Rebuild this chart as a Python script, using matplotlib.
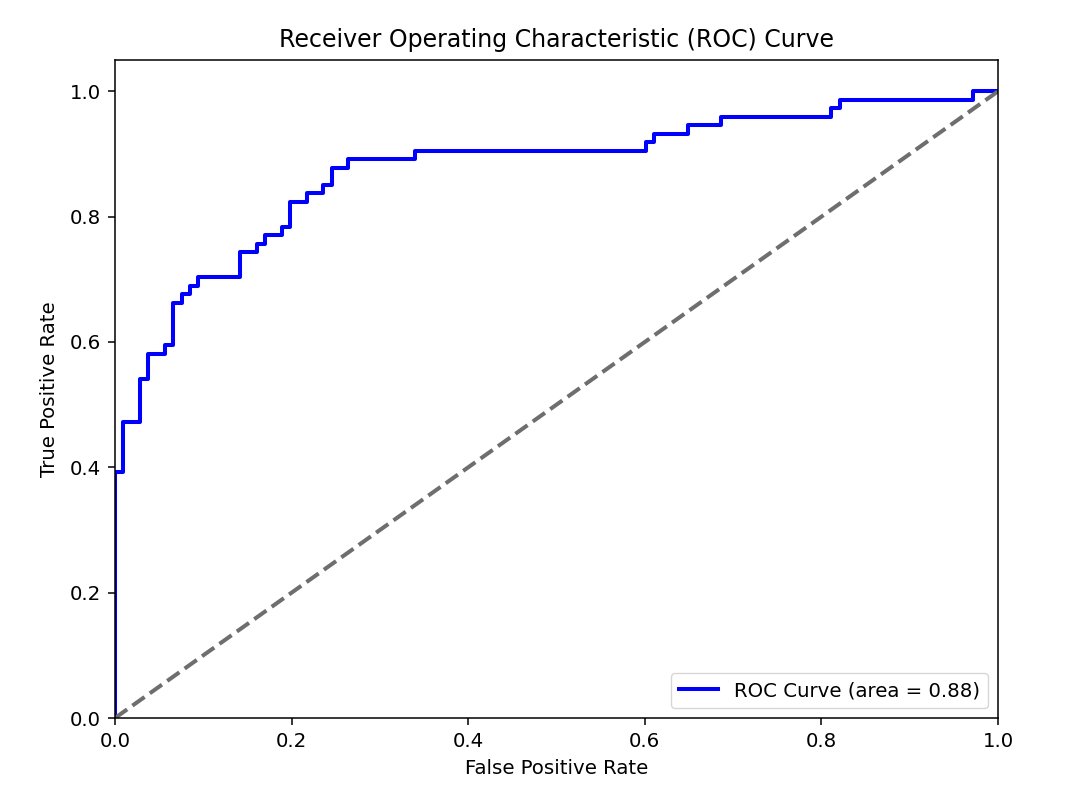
import matplotlib
matplotlib.use("Agg")
import matplotlib.pyplot as plt

# ROC corner points (fpr, tpr), as roc_curve would return them
fpr = [0.0, 0.0, 0.0094, 0.0094, 0.0283, 0.0283, 0.0377, 0.0377, 0.0566, 0.0566,
       0.0660, 0.0660, 0.0755, 0.0755, 0.0849, 0.0849, 0.0943, 0.0943, 0.1415, 0.1415,
       0.1604, 0.1604, 0.1698, 0.1698, 0.1887, 0.1887, 0.1981, 0.1981, 0.2170, 0.2170,
       0.2358, 0.2358, 0.2453, 0.2453, 0.2642, 0.2642, 0.3396, 0.3396, 0.6009, 0.6009,
       0.6104, 0.6104, 0.6484, 0.6484, 0.6862, 0.6862, 0.8105, 0.8105, 0.8205, 0.8205,
       0.9720, 0.9720, 1.0]
tpr = [0.0, 0.392, 0.392, 0.473, 0.473, 0.541, 0.541, 0.581, 0.581, 0.595,
       0.595, 0.662, 0.662, 0.676, 0.676, 0.689, 0.689, 0.703, 0.703, 0.743,
       0.743, 0.757, 0.757, 0.770, 0.770, 0.784, 0.784, 0.824, 0.824, 0.838,
       0.838, 0.851, 0.851, 0.878, 0.878, 0.892, 0.892, 0.905, 0.905, 0.919,
       0.919, 0.932, 0.932, 0.946, 0.946, 0.959, 0.959, 0.973, 0.973, 0.986,
       0.986, 1.0, 1.0]
roc_auc = 0.88
chance = [0.0, 1.0]

fig = plt.figure(figsize=(10.8, 8), dpi=100)
ax = fig.add_axes([115 / 1080, 82 / 800, 883 / 1080, 658 / 800])

ax.plot(fpr, tpr, color="blue", lw=2.9, label=f"ROC Curve (area = {roc_auc:.2f})")
ax.plot(chance, chance, color="#6e6e6e", lw=2.9, linestyle="--")

ax.set_xlim(0.0, 1.0)
ax.set_ylim(0.0, 1.05)
ax.set_xlabel("False Positive Rate", fontsize=14.2, labelpad=6)
ax.set_ylabel("True Positive Rate", fontsize=14.2, labelpad=8)
ax.set_title("Receiver Operating Characteristic (ROC) Curve", fontsize=17, pad=9)
ax.tick_params(labelsize=14.2, length=5, width=1.1, pad=5)
for s in ax.spines.values():
    s.set_linewidth(1.1)
ax.legend(loc="lower right", fontsize=14.2)

fig.savefig("out.png", dpi=100)
